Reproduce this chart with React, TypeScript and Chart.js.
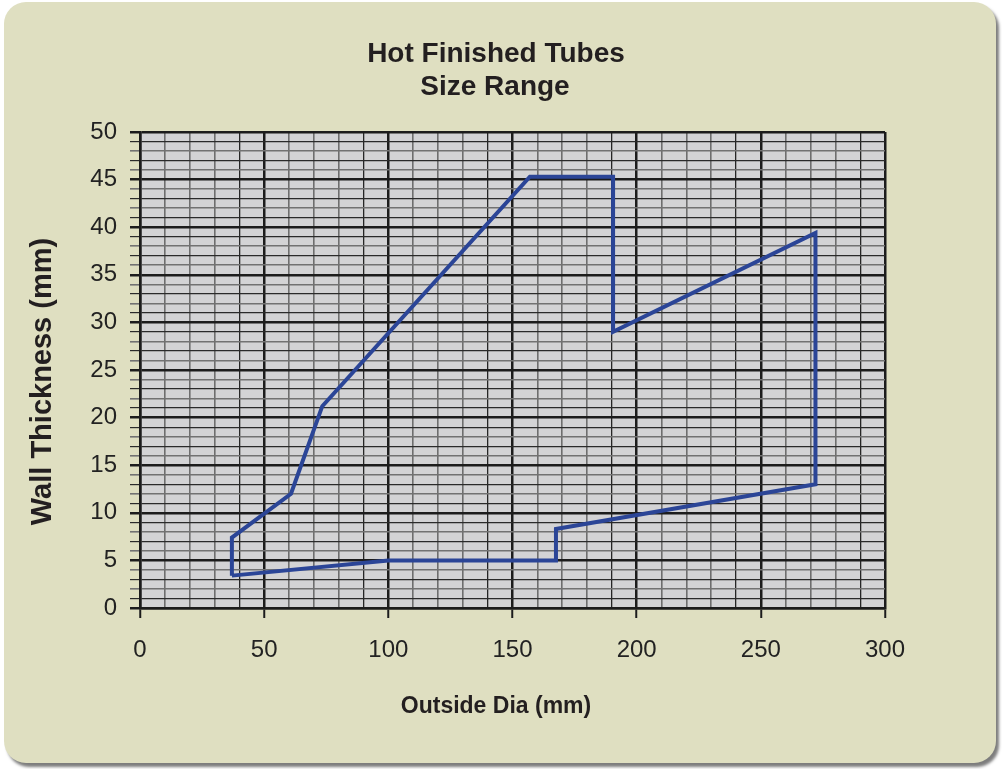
import React, { useEffect, useRef } from "react";
import { Chart, registerables } from "chart.js";

Chart.register(...registerables);

// Polygon outline of the hot finished tube size range (closed)
const outsideDia = [37, 37, 60.8, 73.4, 157, 190.5, 190.5, 272, 272, 167.5, 167.5, 100, 37];
const wallThickness = [3.4, 7.4, 12, 21.2, 45.3, 45.3, 29, 39.4, 13, 8.3, 5, 5, 3.4];

const xTickLabels = [0, 50, 100, 150, 200, 250, 300];
const yTickLabels = [0, 5, 10, 15, 20, 25, 30, 35, 40, 45, 50];

const titleLines = ["Hot Finished Tubes", "Size Range"];
const xTitle = "Outside Dia (mm)";
const yTitle = "Wall Thickness (mm)";

const FONT = '"Liberation Sans", Arial, sans-serif';

export default function App() {
  const ref = useRef<HTMLCanvasElement>(null);

  useEffect(() => {
    if (!ref.current) return;
    const points = outsideDia.map((x, i) => ({ x, y: wallThickness[i] }));

    const bgPlugin = {
      id: "plotBg",
      beforeDraw(chart: any) {
        const { ctx, chartArea } = chart;
        ctx.save();
        ctx.fillStyle = "#d3d3d5";
        ctx.fillRect(chartArea.left, chartArea.top, chartArea.right - chartArea.left, chartArea.bottom - chartArea.top);
        ctx.restore();
      },
    };

    const textPlugin = {
      id: "texts",
      afterDraw(chart: any) {
        const { ctx } = chart;
        ctx.save();
        ctx.fillStyle = "#231f20";
        ctx.textAlign = "center";
        ctx.textBaseline = "alphabetic";
        ctx.font = `bold 28px ${FONT}`;
        ctx.fillText(titleLines[0], 496, 62);
        ctx.fillText(titleLines[1], 495, 95);
        ctx.font = `bold 23px ${FONT}`;
        ctx.fillText(xTitle, 496, 713);
        ctx.translate(51, 381.5);
        ctx.rotate(-Math.PI / 2);
        ctx.font = `bold 29px ${FONT}`;
        ctx.fillText(yTitle, 0, 0);
        ctx.restore();
      },
    };

    const chart = new Chart(ref.current, {
      type: "scatter",
      data: {
        datasets: [
          {
            data: points,
            showLine: true,
            borderColor: "#2b4597",
            borderWidth: 4,
            pointRadius: 0,
            fill: false,
            tension: 0,
            borderJoinStyle: "miter",
          } as any,
        ],
      },
      options: {
        animation: false,
        responsive: false,
        layout: { padding: { left: 0, top: 132, right: 117, bottom: 0 } },
        plugins: { legend: { display: false }, tooltip: { enabled: false }, title: { display: false } },
        scales: {
          x: {
            type: "linear",
            min: 0,
            max: 300,
            afterFit(scale: any) {
              scale.height = 161;
            },
            afterBuildTicks(scale: any) {
              const t: any[] = [];
              for (let v = 0; v <= 300; v += 10) t.push({ value: v });
              scale.ticks = t;
            },
            ticks: {
              autoSkip: false,
              maxRotation: 0,
              padding: 18,
              color: "#222",
              font: { family: FONT, size: 24 },
              callback: (v: any) => (xTickLabels.includes(Number(v)) ? String(v) : ""),
            },
            border: { display: true, color: "#1c1c1c", width: 2.5 },
            grid: {
              drawTicks: true,
              tickLength: 10,
              color: (c: any) => {
                const v = c.tick ? c.tick.value : 0;
                if (v % 50 === 0) return "#1c1c1c";
                if (v % 50 === 40) return "#262626";
                return "#6e6e6e";
              },
              lineWidth: (c: any) => {
                const v = c.tick ? c.tick.value : 0;
                if (v % 50 === 0) return 2.5;
                if (v % 50 === 40) return 1.3;
                return 1.6;
              },
              tickColor: (c: any) => {
                const v = c.tick ? c.tick.value : 0;
                return v % 50 === 0 ? "#1c1c1c" : "rgba(0,0,0,0)";
              },
              tickWidth: 2,
            },
          },
          y: {
            type: "linear",
            min: 0,
            max: 50,
            afterFit(scale: any) {
              scale.width = 140;
            },
            afterBuildTicks(scale: any) {
              const t: any[] = [];
              for (let v = 0; v <= 50; v += 1) t.push({ value: v });
              scale.ticks = t;
            },
            ticks: {
              autoSkip: false,
              padding: 13,
              color: "#222",
              font: { family: FONT, size: 24 },
              callback: (v: any) => (yTickLabels.includes(Number(v)) ? String(v) : ""),
            },
            border: { display: true, color: "#1c1c1c", width: 2.5 },
            grid: {
              drawTicks: true,
              tickLength: 10,
              color: (c: any) => {
                const v = c.tick ? c.tick.value : 0;
                if (v % 5 === 0) return "#1c1c1c";
                if (v % 2 === 1) return "#2a2a2a";
                return "#727272";
              },
              lineWidth: (c: any) => {
                const v = c.tick ? c.tick.value : 0;
                if (v % 5 === 0) return 2.5;
                if (v % 2 === 1) return 1.2;
                return 1.6;
              },
              tickColor: (c: any) => {
                const v = c.tick ? c.tick.value : 0;
                if (v % 5 === 0) return "#1c1c1c";
                return v % 2 === 1 ? "#2a2a2a" : "#727272";
              },
            },
          },
        },
      },
      plugins: [bgPlugin, textPlugin],
    });
    return () => chart.destroy();
  }, []);

  return (
    <div style={{ position: "absolute", left: 0, top: 0, width: 1002, height: 769, background: "#ffffff", overflow: "hidden" }}>
      <div
        style={{
          position: "absolute",
          left: 4,
          top: 2,
          width: 992,
          height: 761,
          borderRadius: 22,
          background: "#dfdfc1",
          boxShadow: "3px 4px 3px #7d7d7d",
        }}
      />
      <canvas ref={ref} width={1002} height={769} style={{ position: "absolute", left: 0, top: 0, width: 1002, height: 769 }} />
    </div>
  );
}
